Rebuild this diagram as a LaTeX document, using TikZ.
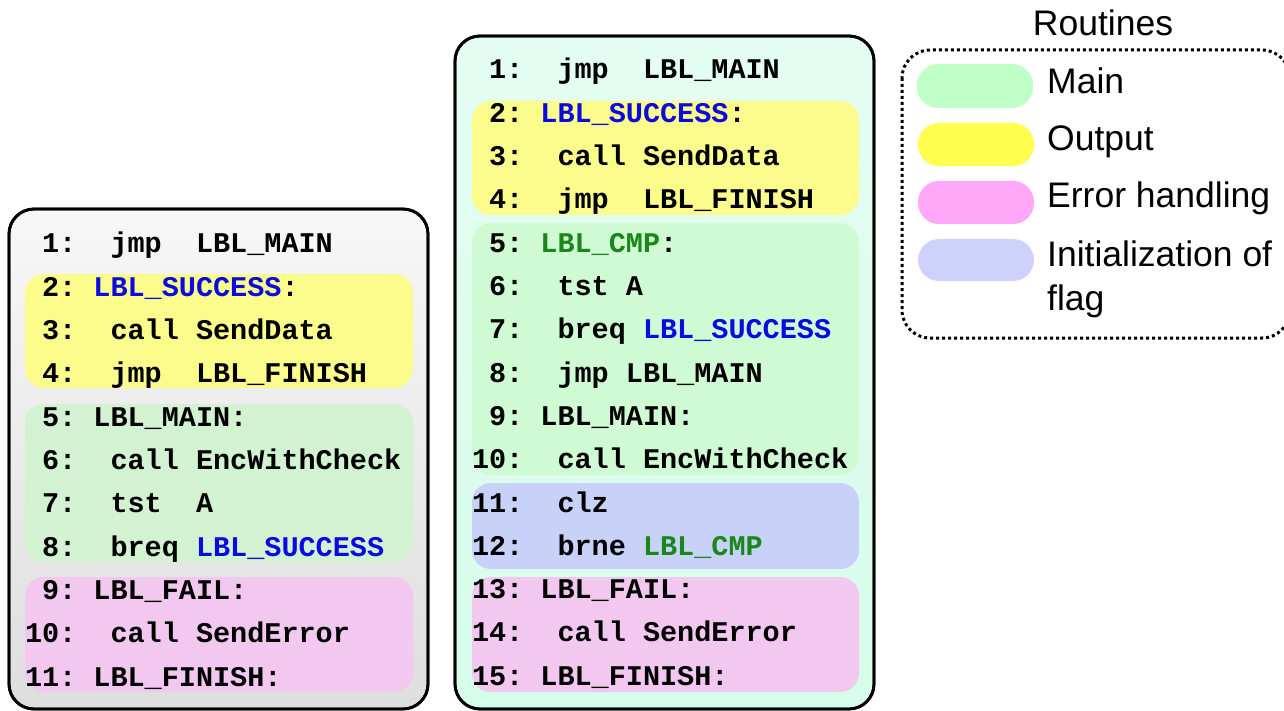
\documentclass[tikz,border=0pt]{standalone}
\usepackage{fontspec}
\setmainfont{Liberation Sans}
\newfontfamily\codefont{Liberation Mono}[BoldFont={* Bold}]

\definecolor{lblblue}{RGB}{10,10,225}
\definecolor{lblgreen}{RGB}{25,135,25}
\definecolor{bandyellow}{RGB}{252,252,140}
\definecolor{bandgreen}{RGB}{210,242,210}
\definecolor{bandgreenB}{RGB}{208,250,212}
\definecolor{bandpink}{RGB}{242,200,240}
\definecolor{bandblue}{RGB}{200,210,248}
\definecolor{keymain}{RGB}{192,255,200}
\definecolor{keyout}{RGB}{255,255,80}
\definecolor{keyerr}{RGB}{255,168,248}
\definecolor{keyinit}{RGB}{206,210,250}
\definecolor{mintA}{RGB}{228,253,242}
\definecolor{mintB}{RGB}{214,252,234}

\tikzset{
  panel/.style={draw=black, line width=2.8pt, rounded corners=25pt},
  band/.style={rounded corners=19pt},
  code/.style={anchor=base west, inner sep=0pt, outer sep=0pt,
               font=\codefont\bfseries\fontsize{28.5}{30}\selectfont},
  keypill/.style={rounded corners=21pt},
  keytext/.style={anchor=base west, inner sep=0pt,
                  font=\fontsize{35.5}{40}\selectfont},
}
\newcommand{\lblB}[1]{\textcolor{lblblue}{#1}}
\newcommand{\lblG}[1]{\textcolor{lblgreen}{#1}}

\begin{document}
\begin{tikzpicture}[x=1pt, y=-1pt]
\useasboundingbox (0,0) rectangle (1284,711);

% ---------- left listing ----------
\shade[panel, top color=gray!6, bottom color=gray!26] (9,209) rectangle (428,709);
\draw[panel] (9,209) rectangle (428,709);
\fill[band, bandyellow] (25,274) rectangle (413,388);
\fill[band, bandgreen]  (25,404) rectangle (413,562);
\fill[band, bandpink]   (25,577) rectangle (413,692);

\foreach \n/\t [count=\i from 0] in {
  l1/{\ 1:\ \ jmp\ \ LBL\_MAIN},
  l2/{\ 2:\ \lblB{LBL\_SUCCESS}:},
  l3/{\ 3:\ \ call\ SendData},
  l4/{\ 4:\ \ jmp\ \ LBL\_FINISH},
  l5/{\ 5:\ LBL\_MAIN:},
  l6/{\ 6:\ \ call\ EncWithCheck},
  l7/{\ 7:\ \ tst\ \ A},
  l8/{\ 8:\ \ breq\ \lblB{LBL\_SUCCESS}},
  l9/{\ 9:\ LBL\_FAIL:},
  l10/{10:\ \ call\ SendError},
  l11/{11:\ LBL\_FINISH:}}
  \node[code] (\n) at (25, 253+43.3*\i) {\t};

% ---------- right listing ----------
\shade[panel, top color=mintA, bottom color=mintB] (455,36) rectangle (874,709);
\draw[panel] (455,36) rectangle (874,709);
\fill[band, bandyellow] (472,101) rectangle (859,215);
\fill[band, bandgreenB] (472,223) rectangle (859,475);
\fill[band, bandblue]   (472,483) rectangle (859,569);
\fill[band, bandpink]   (472,577) rectangle (859,692);

\foreach \n/\t [count=\i from 0] in {
  m1/{\ 1:\ \ jmp\ \ LBL\_MAIN},
  m2/{\ 2:\ \lblB{LBL\_SUCCESS}:},
  m3/{\ 3:\ \ call\ SendData},
  m4/{\ 4:\ \ jmp\ \ LBL\_FINISH},
  m5/{\ 5:\ \lblG{LBL\_CMP}:},
  m6/{\ 6:\ \ tst\ A},
  m7/{\ 7:\ \ breq\ \lblB{LBL\_SUCCESS}},
  m8/{\ 8:\ \ jmp\ LBL\_MAIN},
  m9/{\ 9:\ LBL\_MAIN:},
  m10/{10:\ \ call\ EncWithCheck},
  m11/{11:\ \ clz},
  m12/{12:\ \ brne\ \lblG{LBL\_CMP}},
  m13/{13:\ LBL\_FAIL:},
  m14/{14:\ \ call\ SendError},
  m15/{15:\ LBL\_FINISH:}}
  \node[code] (\n) at (472, 79+43.3*\i) {\t};

% ---------- key ----------
\node[font=\fontsize{35.5}{40}\selectfont, anchor=base] (keytitle) at (1103,36) {Routines};
\draw[line width=3pt, dash pattern=on 3pt off 3pt, rounded corners=28pt]
  (902,50) rectangle (1290,338);
\fill[keypill, keymain] (917,64)  rectangle (1033,108);
\fill[keypill, keyout]  (918,123) rectangle (1034,166);
\fill[keypill, keyerr]  (918,181) rectangle (1034,224);
\fill[keypill, keyinit] (918,239) rectangle (1034,281);
\node[keytext] (kmain) at (1047,94)  {Main};
\node[keytext] (kout)  at (1047,151) {Output};
\node[keytext] (kerr)  at (1047,208) {Error handling};
\node[keytext] (kinit) at (1047,266) {Initialization of};
\node[keytext] (kflag) at (1047,310) {flag};
\end{tikzpicture}
\end{document}
